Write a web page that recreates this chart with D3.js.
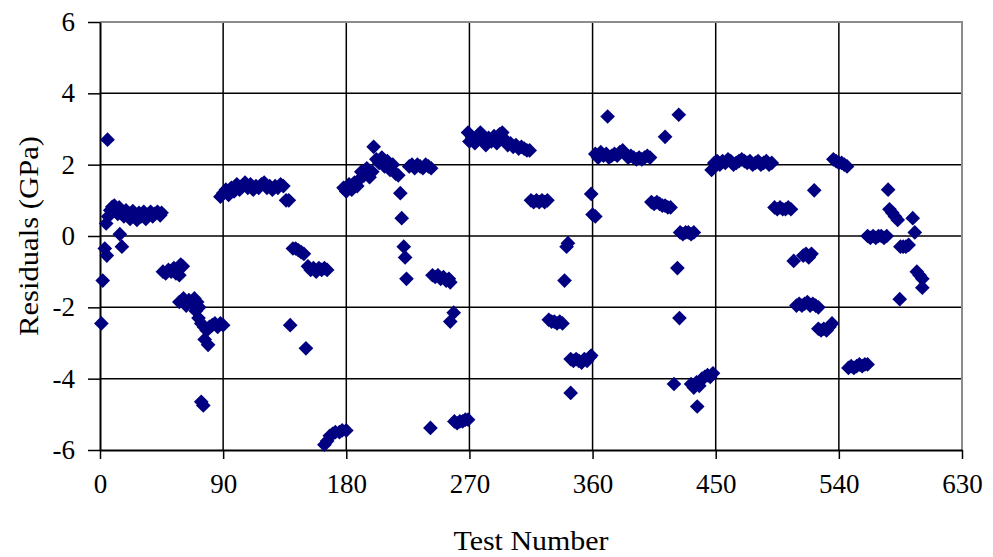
<!DOCTYPE html>
<html>
<head>
<meta charset="utf-8">
<script src="https://cdn.jsdelivr.net/npm/d3@7"></script>
<style>
  html, body { margin: 0; padding: 0; background: #fff; }
  svg { display: block; }
  text { font-family: "Liberation Serif", "Times New Roman", serif; fill: #000; }
</style>
</head>
<body>
<svg id="chart" width="993" height="557"></svg>
<script>
// Axis ticks
const xTicks = [0, 90, 180, 270, 360, 450, 540, 630];
const yTicks = [-6, -4, -2, 0, 2, 4, 6];

// Test number of each measurement
const testNumber = [
  1, 2, 3.5, 5, 5.5, 14.5, 16,
  4.5, 6, 7.5, 9, 10.5, 12, 13, 14, 16, 17.5, 19, 21, 22, 24, 25.5, 27, 28.5, 30, 32, 33.5, 35, 37, 38.5, 40, 42, 44, 45,
  46, 48, 50, 52, 54, 55.5, 57, 59, 60.5, 58,
  58, 61, 63, 65, 67, 69, 71, 72.5, 70, 72, 74, 76, 78, 80, 82, 84, 86, 88, 90, 76.5, 79,
  74, 75.5,
  88, 90, 92, 94, 96, 98, 100, 102, 104, 106, 108, 110, 112, 114, 116, 118, 120, 122, 124, 126, 128, 130, 132, 134, 136, 138,
  141, 143, 145, 147, 149,
  152, 154, 156, 158, 160, 162, 164, 166,
  139, 150.5,
  164, 166, 168, 170, 172, 175, 177, 180,
  178, 180, 182, 184, 186, 188, 190, 191, 193, 195, 197, 199, 200, 202, 204, 206, 208, 210, 212, 214, 216, 218, 219.5, 220.5, 222, 223, 224,
  226, 228, 230, 232, 234, 236, 238, 240, 242,
  243, 245, 247, 249, 251, 253, 255, 256,
  241.5, 256, 258.5,
  259, 261, 263, 265, 267, 269,
  269, 270, 272, 274, 276, 278, 280, 282, 284, 286, 288, 290, 292, 294, 296, 298, 300, 302, 304, 306, 308, 310, 312, 314,
  315, 317, 319, 321, 323, 325, 327,
  341, 342, 339.5,
  328, 330, 332, 334, 336, 338,
  344, 346, 348, 350, 352, 354, 356, 358, 359,
  344,
  359, 360, 362,
  362, 364, 366, 368, 370, 372, 374, 376, 378, 380, 382, 384, 386, 388, 390, 392, 394, 396, 398, 400, 402,
  371, 413, 423,
  403, 405, 407, 409, 411, 413, 415, 417,
  424, 426, 428, 430, 432, 434,
  422, 423.5, 419.5,
  432, 434, 436, 438, 440, 442, 444, 446, 448, 436.5,
  447, 449, 451, 453, 455, 457, 459, 461, 463, 465, 467, 469, 471, 473, 475, 477, 479, 481, 483, 485, 487, 489, 491,
  493, 495, 497, 499, 501, 503, 505,
  522,
  507, 514, 516, 518, 520,
  509, 511, 513, 515, 517, 519, 521, 523, 525,
  525, 527, 529, 531, 533, 535,
  536, 538, 540, 542, 544, 546,
  547, 549, 551, 553, 555, 557, 559, 561,
  561, 563, 565, 567, 569, 571, 573, 575,
  576, 577, 579, 581, 583, 594, 595.5,
  585, 587, 589, 591,
  597, 599, 601, 601,
  584.5
];

// Residual (GPa) of each measurement
const residual = [
  -2.45, -1.25, -0.35, -0.55, 2.7, 0.05, -0.3,
  0.35, 0.55, 0.72, 0.82, 0.85, 0.75, 0.62, 0.8, 0.7, 0.55, 0.72, 0.62, 0.48, 0.7, 0.58, 0.45, 0.65, 0.55, 0.68, 0.48, 0.6, 0.68, 0.55, 0.62, 0.68, 0.58, 0.65,
  -1.0, -1.05, -0.95, -1.0, -0.9, -1.05, -0.95, -0.8, -0.85, -1.1,
  -1.85, -1.75, -1.95, -1.8, -1.9, -1.75, -1.85, -2.0, -2.1, -2.3, -2.45, -2.55, -2.65, -2.55, -2.5, -2.45, -2.55, -2.45, -2.5, -2.9, -3.05,
  -4.65, -4.75,
  1.1, 1.2, 1.3, 1.15, 1.35, 1.25, 1.45, 1.3, 1.4, 1.5, 1.35, 1.45, 1.3, 1.4, 1.35, 1.45, 1.5, 1.35, 1.4, 1.3, 1.4, 1.35, 1.45, 1.4, 1.0, 1.0,
  -0.35, -0.35, -0.4, -0.45, -0.5,
  -0.85, -0.95, -0.9, -1.0, -0.9, -0.95, -0.9, -0.95,
  -2.5, -3.15,
  -5.85, -5.75, -5.6, -5.55, -5.5, -5.5, -5.45, -5.45,
  1.35, 1.25, 1.45, 1.3, 1.5, 1.4, 1.6, 1.8, 1.7, 1.9, 1.65, 1.8, 2.5, 2.15, 2.05, 2.2, 1.95, 2.1, 1.85, 2.0, 1.75, 1.7, 1.2, 0.5, -0.3, -0.6, -1.2,
  1.95, 2.0, 1.9, 2.0, 1.95, 1.9, 2.0, 1.95, 1.9,
  -1.1, -1.15, -1.1, -1.2, -1.15, -1.25, -1.2, -1.3,
  -5.38, -2.4, -2.15,
  -5.2, -5.25, -5.2, -5.2, -5.15, -5.15,
  2.9, 2.65, 2.75, 2.6, 2.8, 2.9, 2.7, 2.55, 2.75, 2.65, 2.8, 2.6, 2.85, 2.9, 2.7, 2.55, 2.6, 2.5, 2.55, 2.45, 2.5, 2.45, 2.4, 2.4,
  1.0, 0.95, 1.0, 0.95, 1.0, 0.95, 1.0,
  -0.3, -0.2, -1.25,
  -2.35, -2.4, -2.4, -2.45, -2.4, -2.45,
  -3.45, -3.5, -3.45, -3.5, -3.55, -3.45, -3.5, -3.4, -3.35,
  -4.4,
  1.18, 0.6, 0.55,
  2.3, 2.2, 2.35, 2.25, 2.3, 2.2, 2.25, 2.3, 2.25, 2.35, 2.4, 2.3, 2.2, 2.25, 2.2, 2.15, 2.2, 2.15, 2.2, 2.25, 2.2,
  3.35, 2.78, 3.4,
  0.95, 0.9, 0.95, 0.9, 0.85, 0.85, 0.8, 0.8,
  0.1, 0.05, 0.1, 0.1, 0.05, 0.1,
  -0.9, -2.3, -4.15,
  -4.15, -4.25, -4.1, -4.2, -4.0, -3.95, -3.9, -3.95, -3.85, -4.78,
  1.85, 2.05, 2.1, 2.0, 2.1, 2.05, 2.15, 2.1, 2.0, 2.05, 2.1, 2.15, 2.1, 2.05, 2.1, 2.0, 2.05, 2.1, 2.0, 2.05, 2.1, 2.0, 2.05,
  0.8, 0.75, 0.8, 0.75, 0.75, 0.8, 0.75,
  1.28,
  -0.7, -0.55, -0.5, -0.6, -0.5,
  -1.95, -1.9, -1.95, -1.9, -1.85, -1.95, -1.9, -1.95, -2.0,
  -2.6, -2.65, -2.6, -2.65, -2.55, -2.45,
  2.15, 2.1, 2.05, 2.05, 2.0, 1.95,
  -3.7, -3.65, -3.7, -3.65, -3.6, -3.65, -3.6, -3.6,
  0.0, -0.05, 0.0, -0.05, 0.0, 0.0, -0.05, 0.0,
  1.3, 0.75, 0.65, 0.55, 0.45, 0.5, 0.1,
  -0.3, -0.3, -0.3, -0.25,
  -1.0, -1.1, -1.2, -1.45,
  -1.77
];

const points = testNumber.map((t, i) => ({ t, r: residual[i] }));

const svg = d3.select("#chart");
const plot = { left: 100, right: 962, top: 22, bottom: 450 };

const x = d3.scaleLinear().domain([0, 630]).range([plot.left, plot.right]);
const y = d3.scaleLinear().domain([-6, 6]).range([plot.bottom, plot.top]);

// Gridlines
const grid = svg.append("g").attr("class", "grid");
grid.selectAll("line.v")
  .data(xTicks.filter(d => d > 0 && d < 630))
  .join("line")
  .attr("x1", d => x(d)).attr("x2", d => x(d))
  .attr("y1", plot.top).attr("y2", plot.bottom)
  .attr("stroke", "#000").attr("stroke-width", 1.5);
grid.selectAll("line.h")
  .data(yTicks.filter(d => d > -6 && d < 6))
  .join("line")
  .attr("x1", plot.left).attr("x2", plot.right)
  .attr("y1", d => y(d)).attr("y2", d => y(d))
  .attr("stroke", "#000").attr("stroke-width", 1.5);

// Plot area border (top and right)
svg.append("path")
  .attr("d", `M${plot.left},${plot.top}H${plot.right}V${plot.bottom}`)
  .attr("fill", "none").attr("stroke", "#8c8c8c").attr("stroke-width", 2);

// Axes (plain hyphen for negative numbers)
const fmt = d => String(d);
const xAxis = d3.axisBottom(x).tickValues(xTicks).tickFormat(fmt).tickSize(9).tickSizeOuter(0).tickPadding(15);
const yAxis = d3.axisLeft(y).tickValues(yTicks).tickFormat(fmt).tickSize(12).tickSizeOuter(0).tickPadding(13);

const gx = svg.append("g").attr("transform", `translate(0,${plot.bottom})`).call(xAxis);
const gy = svg.append("g").attr("transform", `translate(${plot.left},0)`).call(yAxis);

[gx, gy].forEach(g => {
  g.attr("font-family", null).attr("font-size", null);
  g.select(".domain").attr("stroke", "#000").attr("stroke-width", 2);
  g.selectAll(".tick line").attr("stroke", "#000").attr("stroke-width", 1.5);
  g.selectAll(".tick text")
    .style("font-family", "'Liberation Serif', 'Times New Roman', serif")
    .style("font-size", "27px")
    .attr("fill", "#000");
});

// Markers: diamonds
const diamond = d3.symbol().type(d3.symbolSquare).size(108);
svg.append("g").attr("class", "points")
  .selectAll("path")
  .data(points)
  .join("path")
  .attr("d", diamond)
  .attr("transform", d => `translate(${x(d.t)},${y(d.r)}) rotate(45)`)
  .attr("fill", "#000080");

// Axis titles
svg.append("text")
  .attr("x", (plot.left + plot.right) / 2)
  .attr("y", 550)
  .attr("text-anchor", "middle")
  .style("font-size", "28px")
  .attr("textLength", 155)
  .attr("lengthAdjust", "spacingAndGlyphs")
  .text("Test Number");

svg.append("text")
  .attr("transform", `translate(38,${(plot.top + plot.bottom) / 2}) rotate(-90)`)
  .attr("text-anchor", "middle")
  .style("font-size", "27px")
  .attr("textLength", 200)
  .attr("lengthAdjust", "spacingAndGlyphs")
  .text("Residuals (GPa)");
</script>
</body>
</html>
